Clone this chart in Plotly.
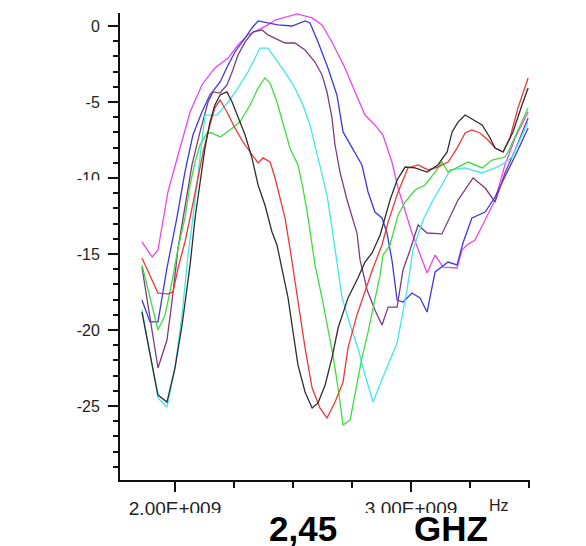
import plotly.graph_objects as go

# frequency in GHz, return loss in dB, one pair of lists per measured curve
magenta_f = [1.860, 1.903, 1.928, 1.953, 1.970, 2.013, 2.064, 2.114, 2.169, 2.225, 2.267, 2.309, 2.352,
             2.394, 2.424, 2.517, 2.581, 2.623, 2.665, 2.720, 2.763, 2.805, 2.847, 2.881, 2.919, 2.945,
             3.004, 3.068, 3.102, 3.136, 3.195, 3.216, 3.237, 3.271, 3.314, 3.356, 3.398, 3.441, 3.496]
magenta_db = [-14.21, -15.20, -14.74, -12.63, -10.92, -8.49, -5.66, -3.88, -2.76, -2.11, -1.25, -0.59, -0.26,
              0.07, 0.39, 0.79, 0.53, 0.07, -1.05, -2.76, -4.34, -5.86, -6.51, -7.17, -8.95, -10.66,
              -13.62, -16.25, -15.07, -15.86, -15.92, -14.74, -14.41, -14.08, -12.76, -11.45, -9.14, -7.37, -5.66]

blue_f = [1.860, 1.894, 1.928, 1.966, 2.008, 2.042, 2.076, 2.114, 2.148, 2.191, 2.225, 2.254, 2.297, 2.326,
          2.352, 2.390, 2.436, 2.496, 2.551, 2.572, 2.606, 2.648, 2.686, 2.712, 2.750, 2.792, 2.818, 2.847,
          2.877, 2.898, 2.919, 2.941, 2.966, 3.004, 3.038, 3.068, 3.102, 3.157, 3.195, 3.220, 3.258, 3.314,
          3.356, 3.398, 3.453, 3.496]
blue_db = [-18.03, -19.47, -19.47, -15.92, -12.63, -9.61, -7.17, -5.66, -4.54, -3.68, -2.57, -1.71, -0.79, -0.13,
           0.33, 0.20, 0.07, 0.0, 0.33, 0.20, -1.05, -2.76, -4.54, -6.97, -8.03, -9.14, -10.92, -12.24,
           -12.63, -13.62, -15.39, -18.03, -18.16, -17.57, -17.89, -18.82, -16.18, -15.53, -15.72, -14.28, -12.63, -12.24,
           -11.25, -9.93, -8.16, -6.71]

purple_f = [1.860, 1.928, 1.966, 1.987, 2.013, 2.034, 2.072, 2.106, 2.140, 2.161, 2.191, 2.220, 2.242, 2.267,
            2.297, 2.331, 2.369, 2.394, 2.424, 2.466, 2.508, 2.551, 2.593, 2.623, 2.644, 2.665, 2.678, 2.699,
            2.729, 2.771, 2.784, 2.814, 2.847, 2.877, 2.903, 2.941, 2.966, 2.996, 3.030, 3.068, 3.131, 3.199,
            3.263, 3.314, 3.356, 3.398, 3.441, 3.496]
purple_db = [-15.86, -22.50, -20.66, -18.16, -14.61, -12.63, -9.14, -6.97, -5.0, -4.34, -4.41, -3.88, -3.03, -1.91,
             -1.05, -0.39, -0.26, -0.59, -0.79, -1.12, -1.12, -1.58, -2.37, -3.22, -4.34, -6.05, -7.83, -9.61,
             -11.45, -13.62, -15.39, -17.37, -18.68, -19.67, -18.49, -18.49, -16.05, -14.74, -13.09, -13.62, -13.68, -11.45,
             -10.0, -10.66, -11.58, -9.67, -8.16, -6.05]

cyan_f = [1.860, 1.928, 1.966, 2.000, 2.030, 2.055, 2.076, 2.097, 2.114, 2.127, 2.178, 2.225, 2.267, 2.309,
          2.339, 2.360, 2.394, 2.424, 2.466, 2.508, 2.542, 2.572, 2.593, 2.623, 2.644, 2.657, 2.678, 2.708,
          2.742, 2.775, 2.805, 2.839, 2.881, 2.941, 2.983, 3.008, 3.051, 3.093, 3.136, 3.165, 3.229, 3.301,
          3.356, 3.398, 3.428, 3.496]
cyan_db = [-18.68, -24.47, -25.07, -22.50, -19.01, -15.07, -12.63, -10.0, -7.83, -5.86, -5.86, -5.0, -4.08, -3.03,
           -2.11, -1.45, -1.45, -2.11, -3.03, -4.08, -5.20, -6.51, -7.83, -9.61, -11.12, -12.43, -14.61, -17.89,
           -19.67, -21.18, -22.96, -24.74, -23.09, -20.86, -17.37, -14.74, -12.76, -11.45, -10.33, -9.47, -9.34, -9.67,
           -9.34, -9.01, -8.62, -6.32]

green_f = [1.860, 1.928, 1.958, 1.987, 2.013, 2.042, 2.064, 2.085, 2.106, 2.136, 2.157, 2.191, 2.233, 2.275,
           2.318, 2.352, 2.381, 2.403, 2.432, 2.458, 2.487, 2.521, 2.542, 2.564, 2.593, 2.623, 2.648, 2.669,
           2.691, 2.712, 2.742, 2.763, 2.792, 2.818, 2.847, 2.869, 2.881, 2.911, 2.945, 2.975, 3.017, 3.059,
           3.102, 3.131, 3.157, 3.216, 3.242, 3.301, 3.343, 3.398, 3.411, 3.496]
green_db = [-15.72, -20.0, -19.01, -16.84, -14.61, -12.63, -10.46, -8.95, -7.83, -7.04, -7.04, -7.30, -6.84, -6.32,
            -5.20, -4.08, -3.42, -3.75, -5.0, -6.51, -8.03, -9.14, -10.66, -12.63, -15.72, -17.89, -19.87, -21.64,
            -23.82, -26.25, -25.92, -24.28, -21.84, -20.13, -17.89, -16.38, -15.07, -14.41, -12.43, -11.58, -10.79, -10.46,
            -9.61, -8.95, -9.61, -9.14, -8.95, -9.34, -8.82, -8.62, -8.29, -5.39]

red_f = [1.860, 1.928, 1.970, 1.992, 2.013, 2.042, 2.064, 2.093, 2.119, 2.148, 2.169, 2.191, 2.220, 2.254,
         2.288, 2.318, 2.352, 2.373, 2.403, 2.424, 2.445, 2.466, 2.487, 2.508, 2.530, 2.551, 2.581, 2.614,
         2.644, 2.678, 2.712, 2.733, 2.771, 2.805, 2.839, 2.877, 2.903, 2.945, 2.987, 3.030, 3.072, 3.114,
         3.157, 3.195, 3.229, 3.258, 3.292, 3.326, 3.356, 3.390, 3.419, 3.453, 3.496]
red_db = [-15.26, -17.57, -17.63, -17.50, -15.92, -14.21, -12.63, -10.46, -8.29, -6.51, -5.39, -4.87, -5.66, -6.71,
          -7.63, -8.29, -9.01, -8.68, -8.95, -10.0, -11.32, -12.63, -14.61, -16.84, -19.01, -21.18, -23.82, -25.13,
          -25.79, -24.74, -23.42, -21.18, -19.01, -17.50, -15.92, -14.41, -12.89, -10.92, -9.34, -9.14, -9.47, -9.28,
          -8.95, -8.03, -7.04, -6.84, -7.04, -7.50, -8.03, -8.29, -7.37, -5.39, -3.42]

black_f = [1.860, 1.928, 1.966, 2.000, 2.030, 2.064, 2.085, 2.106, 2.127, 2.148, 2.169, 2.191, 2.220, 2.242,
           2.267, 2.297, 2.326, 2.352, 2.381, 2.411, 2.432, 2.453, 2.479, 2.500, 2.521, 2.551, 2.581, 2.606,
           2.636, 2.665, 2.691, 2.733, 2.775, 2.805, 2.835, 2.869, 2.911, 2.941, 2.975, 3.017, 3.068, 3.114,
           3.153, 3.174, 3.199, 3.229, 3.263, 3.301, 3.335, 3.356, 3.390, 3.432, 3.470, 3.496]
black_db = [-18.82, -24.28, -24.74, -22.50, -19.67, -15.72, -12.63, -10.26, -8.03, -6.32, -5.20, -4.54, -4.34, -5.0,
            -6.05, -7.17, -8.68, -10.46, -11.78, -13.55, -14.41, -15.92, -17.89, -20.13, -22.30, -24.08, -25.13, -24.80,
            -23.62, -21.84, -19.87, -17.89, -16.58, -15.53, -14.93, -13.75, -11.45, -10.13, -9.28, -9.34, -9.61, -9.14,
            -8.29, -6.97, -6.32, -5.86, -6.18, -6.51, -7.37, -8.03, -8.29, -6.97, -5.20, -4.08]

x_tickvals = [2.0, 3.0]
x_ticktext = ["2.00E+009", "3.00E+009"]
y_tickvals = [0, -5, -10, -15, -20, -25]
y_ticktext = ["0", "-5", "-10", "-15", "-20", "-25"]

curves = [
    (magenta_f, magenta_db, "#ee44ee"),
    (blue_f, blue_db, "#3a3ae0"),
    (purple_f, purple_db, "#7e3c7e"),
    (cyan_f, cyan_db, "#3ee8e8"),
    (green_f, green_db, "#3fdc3f"),
    (red_f, red_db, "#ee3838"),
    (black_f, black_db, "#2e2e2e"),
]

fig = go.Figure()
for f, db, col in curves:
    fig.add_trace(go.Scatter(x=f, y=db, mode="lines", line=dict(color=col, width=1.3),
                             showlegend=False, hoverinfo="skip"))

font = "Liberation Sans, Arial, sans-serif"

# the page body adds an 8px offset, margins compensate for it
fig.update_layout(
    width=586, height=546, autosize=False,
    margin=dict(l=112, r=64, t=5, b=74),
    paper_bgcolor="white", plot_bgcolor="white",
    font=dict(family=font, color="#111111"),
    xaxis=dict(
        range=[1.767, 3.504], showgrid=False, zeroline=False,
        showline=True, linecolor="#111111", linewidth=2,
        tickmode="array", tickvals=x_tickvals, ticktext=x_ticktext,
        ticks="outside", ticklen=10, tickwidth=2, tickcolor="#111111",
        tickfont=dict(size=19, color="#222222"), ticklabelstandoff=0,
        minor=dict(dtick=0.25, tick0=2.0, ticks="outside", ticklen=6, tickwidth=2, tickcolor="#111111"),
    ),
    yaxis=dict(
        range=[-29.87, 0.855], showgrid=False, zeroline=False,
        showline=True, linecolor="#111111", linewidth=2,
        tickmode="array", tickvals=y_tickvals, ticktext=y_ticktext,
        ticks="outside", ticklen=10, tickwidth=2, tickcolor="#111111",
        tickfont=dict(size=16, color="#222222"), ticklabelstandoff=5,
        minor=dict(dtick=1, tick0=0, ticks="outside", ticklen=5, tickwidth=1.5, tickcolor="#111111"),
    ),
)

# scan clips the bottom of a few labels
fig.add_shape(type="rect", xref="paper", yref="paper", x0=0.1, x1=0.9, y0=-0.0707, y1=-0.0814,
              fillcolor="white", line=dict(width=0), layer="above")
fig.add_shape(type="rect", xref="paper", yref="paper", x0=-0.15, x1=-0.02, y0=0.642, y1=0.622,
              fillcolor="white", line=dict(width=0), layer="above")

fig.add_annotation(text="Hz", xref="paper", yref="paper", x=0.925, y=-0.054, xanchor="center",
                   yanchor="middle", showarrow=False, font=dict(size=16, color="#222222"))
fig.add_annotation(text="<b>2,45</b>", xref="paper", yref="paper", x=0.446, y=-0.104, xanchor="center",
                   yanchor="middle", showarrow=False, font=dict(size=35, color="black"))
fig.add_annotation(text="<b>GHZ</b>", xref="paper", yref="paper", x=0.807, y=-0.104, xanchor="center",
                   yanchor="middle", showarrow=False, font=dict(size=35, color="black"))

fig.write_html("out.html")
